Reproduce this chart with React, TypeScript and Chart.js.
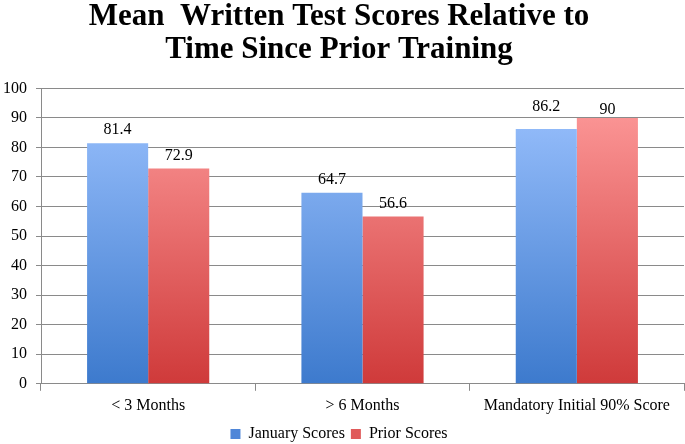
import React, { useEffect, useRef } from "react";
import { Chart, registerables } from "chart.js";

Chart.register(...registerables);

const categories = ["< 3 Months", "> 6 Months", "Mandatory Initial 90% Score"];
const januaryScores = [81.4, 64.7, 86.2];
const priorScores = [72.9, 56.6, 90];
const yTicks = [0, 10, 20, 30, 40, 50, 60, 70, 80, 90, 100];
const titleLines = ["Mean  Written Test Scores Relative to", "Time Since Prior Training"];

const FONT = "'Liberation Serif', 'DejaVu Serif', serif";
// manual label nudges (pixels) as in the original chart, keyed "dataset-index"
const LABEL_NUDGE: Record<string, number> = { "0-2": -9, "1-2": 5 };

function grad(ctx: any, chartArea: any, top: string, bottom: string) {
  const g = ctx.createLinearGradient(0, chartArea.top, 0, chartArea.bottom);
  g.addColorStop(0, top);
  g.addColorStop(1, bottom);
  return g;
}

const valueLabels = {
  id: "valueLabels",
  afterDatasetsDraw(chart: any) {
    const { ctx } = chart;
    ctx.save();
    ctx.font = `16px ${FONT}`;
    ctx.fillStyle = "#000";
    ctx.textAlign = "center";
    ctx.textBaseline = "bottom";
    chart.data.datasets.forEach((ds: any, i: number) => {
      const meta = chart.getDatasetMeta(i);
      meta.data.forEach((bar: any, j: number) => {
        const nudge = LABEL_NUDGE[`${i}-${j}`] || 0;
        ctx.fillText(String(ds.data[j]), bar.x, bar.y - 5 + nudge);
      });
    });
    ctx.restore();
  },
};

export default function App() {
  const ref = useRef<HTMLCanvasElement>(null);
  useEffect(() => {
    const chart = new Chart(ref.current!, {
      type: "bar",
      data: {
        labels: categories,
        datasets: [
          {
            label: "January Scores",
            data: januaryScores,
            backgroundColor: (c: any) => {
              const ca = c.chart.chartArea;
              if (!ca) return "#6a9ee8";
              return grad(c.chart.ctx, ca, "#9dc3ff", "#3d7acd");
            },
            borderWidth: 0,
          },
          {
            label: "Prior Scores",
            data: priorScores,
            backgroundColor: (c: any) => {
              const ca = c.chart.chartArea;
              if (!ca) return "#e06a6a";
              return grad(c.chart.ctx, ca, "#ff9d9d", "#cf3a3a");
            },
            borderWidth: 0,
          },
        ],
      },
      options: {
        animation: false,
        responsive: false,
        layout: { padding: { left: -6, right: 1, top: 0, bottom: -8 } },
        datasets: { bar: { categoryPercentage: 0.57, barPercentage: 1 } },
        scales: {
          x: {
            grid: { offset: true, drawOnChartArea: false, drawTicks: true, tickLength: 7, color: "#8a8a8a" },
            border: { color: "#8a8a8a" },
            ticks: { color: "#000", font: { family: FONT, size: 16 }, padding: 5 },
          },
          y: {
            min: 0,
            max: 100,
            afterBuildTicks: (axis: any) => {
              axis.ticks = yTicks.map((v) => ({ value: v }));
            },
            grid: { color: "#8a8a8a", tickLength: 5 },
            border: { color: "#8a8a8a" },
            ticks: { color: "#000", font: { family: FONT, size: 16 }, padding: 9 },
          },
        },
        plugins: {
          title: {
            display: true,
            text: titleLines,
            color: "#000",
            font: { family: FONT, size: 31, weight: "bold", lineHeight: 1.07 },
            padding: { top: 0, bottom: 22 },
          },
          legend: {
            position: "bottom",
            labels: {
              color: "#000",
              font: { family: FONT, size: 16 },
              boxWidth: 10,
              boxHeight: 10,
              padding: 6,
              generateLabels: () => [
                { text: "January Scores", fillStyle: "#4f86d8", strokeStyle: "#4f86d8", lineWidth: 0, datasetIndex: 0 },
                { text: "Prior Scores", fillStyle: "#e05a5a", strokeStyle: "#e05a5a", lineWidth: 0, datasetIndex: 1 },
              ],
            },
          },
          tooltip: { enabled: false },
        },
      },
      plugins: [valueLabels],
    });
    return () => chart.destroy();
  }, []);
  return (
    <div style={{ position: "fixed", left: 0, top: 0, width: 685, height: 444, background: "#fff" }}>
      <canvas ref={ref} width={685} height={444} />
    </div>
  );
}
